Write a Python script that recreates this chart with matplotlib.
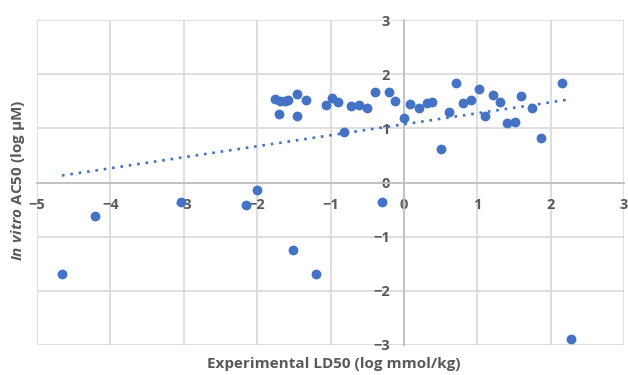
import numpy as np
import matplotlib
matplotlib.use("Agg")
import matplotlib.pyplot as plt

# Experimental LD50 (log mmol/kg) vs In vitro AC50 (log uM)
ld50 = [-1.76, -1.69, -1.62, -1.58, -1.46, -1.34, -1.70, -1.45,
        -1.06, -0.98, -0.90, -0.72, -0.61, -0.50, -0.40, -0.20, -0.12,
        -0.81, 0.00, 0.08, 0.20, 0.31, 0.39, 0.50, 0.61, 0.71, 0.80,
        0.91, 1.02, 1.10, 1.21, 1.31, 1.40, 1.51, 1.60, 1.74, 1.87, 2.15,
        -4.66, -4.21, -3.04, -2.15, -2.00, -1.51, -1.20, -0.30, 2.28]
ac50 = [1.54, 1.50, 1.51, 1.52, 1.64, 1.53, 1.27, 1.22,
        1.44, 1.56, 1.49, 1.41, 1.44, 1.38, 1.67, 1.68, 1.51,
        0.94, 1.20, 1.45, 1.37, 1.46, 1.49, 0.61, 1.31, 1.84, 1.46,
        1.52, 1.72, 1.23, 1.61, 1.48, 1.09, 1.12, 1.59, 1.37, 0.82, 1.84,
        -1.68, -0.61, -0.36, -0.42, -0.13, -1.24, -1.69, -0.36, -2.89]

# linear trendline as shown in the chart
trend_slope = 0.203
trend_intercept = 1.075

x_ticks = [-5, -4, -3, -2, -1, 0, 1, 2, 3]
y_ticks = [-3, -2, -1, 0, 1, 2, 3]

blue = "#4472C4"
grid_c = "#D9D9D9"
axis_c = "#BFBFBF"
text_c = "#595959"

plt.rcParams['font.family'] = ['Open Sans', 'DejaVu Sans']
plt.rcParams['mathtext.fontset'] = 'custom'
plt.rcParams['mathtext.it'] = 'Open Sans:italic:bold'
plt.rcParams['mathtext.rm'] = 'Open Sans:bold'

fig = plt.figure(figsize=(6.28, 3.75), dpi=100)
ax = fig.add_axes([37/628, 1-345/375, (624-37)/628, (345-20)/375])

x = np.array(ld50)
y = np.array(ac50)
ax.scatter(x, y, s=50, color=blue, zorder=4, linewidths=0)

xs = np.array([x.min(), x.max()])
ax.plot(xs, trend_slope*xs + trend_intercept, linestyle=(0, (1, 2.2)),
        color=blue, lw=1.9, zorder=3)

ax.set_xlim(-5, 3)
ax.set_ylim(-3, 3)
ax.set_xticks(x_ticks)
ax.set_yticks(y_ticks)
ax.grid(True, color=grid_c, lw=1.2, zorder=0)
ax.set_axisbelow(True)

for s in ['top', 'right']:
    ax.spines[s].set_visible(False)
ax.spines['left'].set_position(('data', 0))
ax.spines['bottom'].set_position(('data', 0))
for s in ['left', 'bottom']:
    ax.spines[s].set_color(axis_c)
    ax.spines[s].set_linewidth(1.3)

ax.tick_params(axis='both', length=0, labelsize=10.5, labelcolor=text_c)
ax.tick_params(axis='x', pad=11)
ax.tick_params(axis='y', pad=10)
for lab in ax.get_xticklabels() + ax.get_yticklabels():
    lab.set_fontweight('bold')

fig.text(334/628, 1-364/375, "Experimental LD50 (log mmol/kg)", ha='center', va='center',
         fontsize=11, color=text_c, fontweight='bold')
fig.text(18/628, 1-180/375, r"$\it{In\ vitro}$ AC50 (log µM)", rotation=90, ha='center',
         va='center', fontsize=11, color=text_c, fontweight='bold')

fig.savefig("out.png", dpi=100)
